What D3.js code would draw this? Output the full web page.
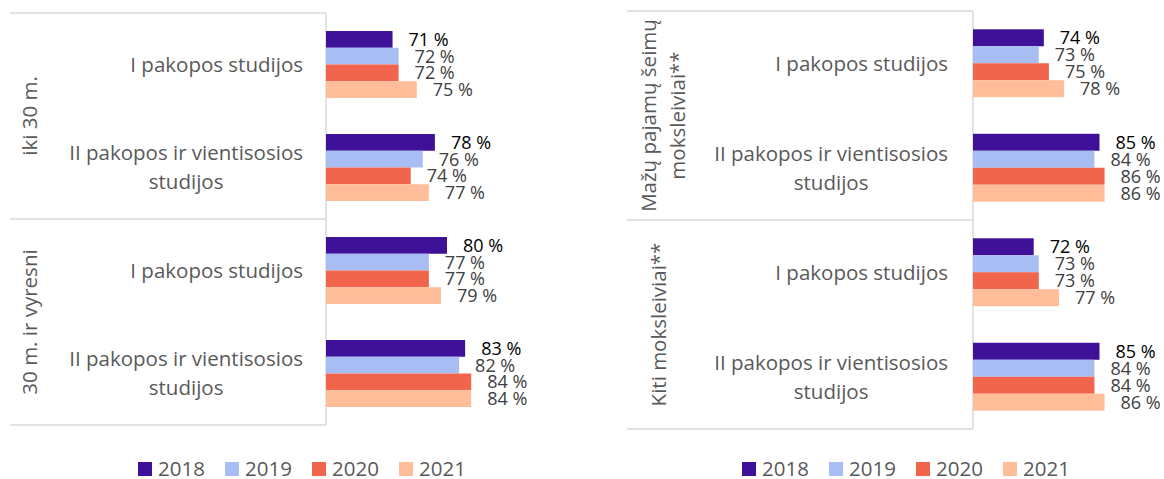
<!DOCTYPE html>
<html>
<head>
<meta charset="utf-8">
<script src="https://cdn.jsdelivr.net/npm/d3@7"></script>
<style>
  html, body { margin: 0; padding: 0; background: #ffffff; }
  svg { display: block; }
  text { font-family: "Open Sans", "Noto Sans", sans-serif; }
</style>
</head>
<body>
<svg id="chart" width="1164" height="479"></svg>
<script>
// Years shown in both panels
const years = ["2018", "2019", "2020", "2021"];
const yearColors = ["#3F1199", "#A9BDF5", "#F0654B", "#FFBD9A"];

// Study level labels (rows within each group)
const studyLevels = ["I pakopos studijos", "II pakopos ir vientisosios\nstudijos"];

// Left panel: by age group
const ageGroups = ["iki 30 m.", "30 m. ir vyresni"];
const age2018 = [71, 78, 80, 83];
const age2019 = [72, 76, 77, 82];
const age2020 = [72, 74, 77, 84];
const age2021 = [75, 77, 79, 84];

// Right panel: by family income of school pupils
const incomeGroups = ["Mažų pajamų šeimų\nmoksleiviai**", "Kiti moksleiviai**"];
const inc2018 = [74, 85, 72, 85];
const inc2019 = [73, 84, 73, 84];
const inc2020 = [75, 86, 73, 84];
const inc2021 = [78, 86, 77, 86];

const svg = d3.select("#chart");
const lineColor = "#d9d9d9";

function drawPanel(cfg) {
  const g = svg.append("g");
  // Row keys: group index x study level
  const rows = [];
  cfg.groups.forEach((grp, gi) => studyLevels.forEach((lv, li) => rows.push({ key: gi + "-" + li, label: lv, group: gi })));

  const y = d3.scaleBand()
    .domain(rows.map(r => r.key))
    .range([cfg.top, cfg.bottom])
    .paddingInner(0.35)
    .paddingOuter(0.175);

  const yInner = d3.scaleBand().domain(years).range([0, y.bandwidth()]).padding(0);

  const x = d3.scaleLinear().domain([60, 100]).range([cfg.x0, cfg.x0 + cfg.pxPerPct * 40]);

  // Frame lines of the category axis
  const mid = (cfg.top + cfg.bottom) / 2;
  [cfg.top, mid, cfg.bottom].forEach(yy => {
    g.append("line")
      .attr("x1", cfg.frameLeft).attr("x2", cfg.x0)
      .attr("y1", yy).attr("y2", yy)
      .attr("stroke", lineColor).attr("stroke-width", 1.5);
  });
  g.append("line")
    .attr("x1", cfg.x0).attr("x2", cfg.x0)
    .attr("y1", cfg.top).attr("y2", cfg.bottom)
    .attr("stroke", lineColor).attr("stroke-width", 1.5);

  // Bars and value labels
  const series = cfg.series;
  rows.forEach((row, ri) => {
    years.forEach((yr, yi) => {
      const v = series[yi][ri];
      const by = y(row.key) + yInner(yr);
      g.append("rect")
        .attr("x", x(60))
        .attr("y", by)
        .attr("width", x(v) - x(60))
        .attr("height", yInner.bandwidth())
        .attr("fill", yearColors[yi]);
      g.append("text")
        .attr("x", x(v) + 16)
        .attr("y", by + yInner.bandwidth() / 2)
        .attr("dy", "0.36em")
        .attr("font-size", 18)
        .attr("fill", yi === 0 ? "#000000" : "#404040")
        .text(v + " %");
    });
  });

  // Study level labels, right-aligned block with centred lines
  rows.forEach(row => {
    const lines = row.label.split("\n");
    const t = g.append("text")
      .attr("font-size", 20.5)
      .attr("fill", "#595959")
      .attr("text-anchor", "middle");
    const cy = y(row.key) + y.bandwidth() / 2;
    const lh = 29;
    lines.forEach((ln, i) => {
      t.append("tspan")
        .attr("y", cy + (i - (lines.length - 1) / 2) * lh)
        .attr("dy", "0.36em")
        .text(ln);
    });
    let maxW = 0;
    t.selectAll("tspan").each(function () { maxW = Math.max(maxW, this.getComputedTextLength()); });
    t.selectAll("tspan").attr("x", cfg.labelRight - maxW / 2);
  });

  // Outer group labels, rotated
  cfg.groups.forEach((grp, gi) => {
    const cy = gi === 0 ? (cfg.top + mid) / 2 : (mid + cfg.bottom) / 2;
    const lines = grp.split("\n");
    const cx = lines.length === 1 ? cfg.groupX1 : cfg.groupX2;
    const t = g.append("text")
      .attr("transform", `translate(${cx},${cy}) rotate(-90)`)
      .attr("font-size", 20.5)
      .attr("fill", "#595959")
      .attr("text-anchor", "middle");
    lines.forEach((ln, i) => {
      t.append("tspan")
        .attr("x", 0)
        .attr("y", (i - (lines.length - 1) / 2) * 29)
        .attr("dy", "0.36em")
        .text(ln);
    });
  });

  // Legend
  const leg = g.append("g");
  years.forEach((yr, yi) => {
    const lx = cfg.legendX + yi * 87;
    leg.append("rect")
      .attr("x", lx).attr("y", 462)
      .attr("width", 14).attr("height", 14)
      .attr("fill", yearColors[yi]);
    leg.append("text")
      .attr("x", lx + 20).attr("y", 469)
      .attr("dy", "0.36em")
      .attr("font-size", 20.5)
      .attr("fill", "#595959")
      .text(yr);
  });
}

drawPanel({
  groups: ageGroups,
  series: [age2018, age2019, age2020, age2021],
  top: 13, bottom: 425,
  x0: 326, pxPerPct: 6.05,
  frameLeft: 10, labelRight: 303,
  groupX1: 30, groupX2: 30,
  legendX: 138
});

drawPanel({
  groups: incomeGroups,
  series: [inc2018, inc2019, inc2020, inc2021],
  top: 11, bottom: 429,
  x0: 973, pxPerPct: 5.06,
  frameLeft: 627, labelRight: 948,
  groupX1: 659, groupX2: 663.5,
  legendX: 742
});
</script>
</body>
</html>
